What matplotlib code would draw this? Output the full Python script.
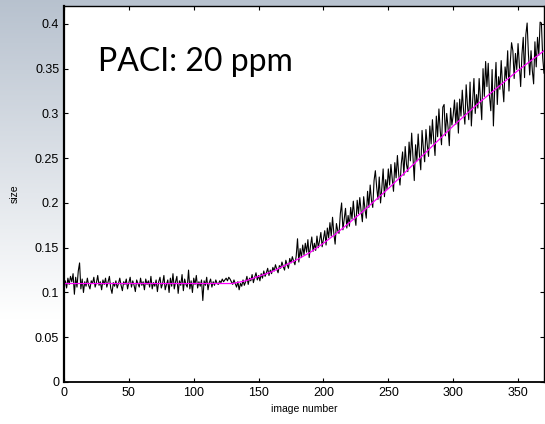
import numpy as np
import matplotlib
matplotlib.use("Agg")
import matplotlib.pyplot as plt
from matplotlib.ticker import FormatStrFormatter

size = [
    0.108, 0.113, 0.105, 0.116, 0.109, 0.118, 0.112, 0.121, 0.098, 0.117, 0.106, 0.124, 0.133, 0.104, 0.115, 0.100, 0.112, 0.107, 0.116, 0.108,
    0.104, 0.113, 0.110, 0.117, 0.106, 0.111, 0.119, 0.108, 0.112, 0.103, 0.114, 0.109, 0.116, 0.106, 0.112, 0.118, 0.105, 0.099, 0.111, 0.107,
    0.113, 0.105, 0.110, 0.116, 0.108, 0.102, 0.112, 0.109, 0.115, 0.104, 0.111, 0.117, 0.106, 0.113, 0.108, 0.101, 0.114, 0.110, 0.106, 0.116,
    0.108, 0.112, 0.103, 0.115, 0.109, 0.113, 0.106, 0.118, 0.104, 0.111, 0.107, 0.114, 0.101, 0.112, 0.117, 0.105, 0.110, 0.119, 0.103, 0.109,
    0.114, 0.100, 0.116, 0.107, 0.121, 0.104, 0.112, 0.118, 0.099, 0.113, 0.108, 0.120, 0.102, 0.115, 0.109, 0.106, 0.125, 0.104, 0.113, 0.100,
    0.116, 0.109, 0.119, 0.105, 0.112, 0.107, 0.114, 0.091, 0.113, 0.108, 0.117, 0.103, 0.111, 0.115, 0.106, 0.112, 0.108, 0.114, 0.110, 0.109,
    0.113, 0.111, 0.115, 0.112, 0.114, 0.116, 0.113, 0.117, 0.115, 0.112, 0.109, 0.114, 0.110, 0.106, 0.112, 0.103, 0.110, 0.107, 0.114, 0.108,
    0.112, 0.118, 0.109, 0.116, 0.113, 0.120, 0.111, 0.117, 0.122, 0.114, 0.119, 0.113, 0.121, 0.116, 0.124, 0.118, 0.122, 0.127, 0.119, 0.125,
    0.121, 0.128, 0.124, 0.131, 0.126, 0.122, 0.130, 0.127, 0.134, 0.129, 0.125, 0.136, 0.131, 0.127, 0.138, 0.133, 0.140, 0.135, 0.131, 0.141,
    0.160, 0.134, 0.149, 0.139, 0.153, 0.142, 0.155, 0.145, 0.159, 0.139, 0.152, 0.162, 0.146, 0.155, 0.147, 0.163, 0.150, 0.158, 0.167, 0.151,
    0.160, 0.169, 0.153, 0.172, 0.161, 0.178, 0.163, 0.184, 0.166, 0.154, 0.177, 0.169, 0.166, 0.188, 0.200, 0.170, 0.182, 0.194, 0.172, 0.186,
    0.174, 0.195, 0.182, 0.202, 0.185, 0.175, 0.203, 0.188, 0.206, 0.191, 0.179, 0.207, 0.193, 0.183, 0.213, 0.195, 0.220, 0.203, 0.195, 0.225,
    0.236, 0.218, 0.204, 0.229, 0.200, 0.217, 0.238, 0.207, 0.226, 0.215, 0.238, 0.220, 0.243, 0.227, 0.213, 0.245, 0.228, 0.253, 0.232, 0.220,
    0.244, 0.257, 0.231, 0.263, 0.243, 0.235, 0.268, 0.247, 0.278, 0.252, 0.225, 0.265, 0.247, 0.277, 0.253, 0.237, 0.281, 0.261, 0.246, 0.282,
    0.265, 0.252, 0.286, 0.266, 0.293, 0.270, 0.253, 0.297, 0.274, 0.305, 0.281, 0.265, 0.307, 0.310, 0.275, 0.300, 0.285, 0.264, 0.306, 0.287,
    0.298, 0.315, 0.288, 0.312, 0.278, 0.316, 0.297, 0.326, 0.303, 0.288, 0.332, 0.309, 0.293, 0.335, 0.286, 0.314, 0.339, 0.300, 0.321, 0.306,
    0.339, 0.315, 0.293, 0.350, 0.319, 0.358, 0.330, 0.356, 0.319, 0.303, 0.349, 0.286, 0.328, 0.357, 0.310, 0.341, 0.327, 0.359, 0.332, 0.313,
    0.352, 0.339, 0.370, 0.325, 0.357, 0.379, 0.370, 0.339, 0.367, 0.349, 0.378, 0.354, 0.330, 0.366, 0.385, 0.340, 0.388, 0.401, 0.366, 0.343,
    0.370, 0.348, 0.333, 0.380, 0.352, 0.385, 0.365, 0.402, 0.401, 0.362, 0.345,
]
image = np.arange(len(size))

# fitted curve (magenta)
fit_x = [0, 130, 140, 150, 160, 170, 180, 190, 200, 210, 220, 230, 240, 250,
         260, 270, 280, 290, 300, 310, 320, 330, 340, 350, 360, 370]
fit_y = [0.110, 0.110, 0.113, 0.118, 0.123, 0.130, 0.137, 0.145, 0.155, 0.166,
         0.178, 0.190, 0.203, 0.216, 0.230, 0.244, 0.258, 0.272, 0.286, 0.299,
         0.312, 0.324, 0.336, 0.348, 0.359, 0.370]

fig = plt.figure(figsize=(5.45, 4.24), dpi=100)

# slide-like gradient background
bg = fig.add_axes([0, 0, 1, 1], zorder=0)
rows = np.linspace(0, 1, 200)[:, None]
top = np.array([0.72, 0.76, 0.81])
grad = top + (1 - top) * np.clip(rows / 0.75, 0, 1)[..., None]
grad = np.repeat(grad, 2, axis=1)
bg.imshow(grad, aspect="auto", extent=[0, 1, 0, 1], origin="upper")
bg.axis("off")

ax = fig.add_axes([64 / 545, 42 / 424, 480 / 545, 376 / 424], zorder=1)
ax.set_facecolor("white")
ax.plot(image, size, color="black", lw=0.8)
ax.plot(fit_x, fit_y, color="#ff00ff", lw=0.9)

ax.set_xlim(0, 370)
ax.set_ylim(0, 0.42)
ax.set_xticks(np.arange(0, 351, 50))
ax.set_yticks(np.arange(0, 0.401, 0.05))
ax.yaxis.set_major_formatter(FormatStrFormatter("%g"))
ax.tick_params(direction="in", length=3, width=0.8, top=True, right=True,
               labelsize=9, colors="black")
for s in ax.spines.values():
    s.set_linewidth(1.0)
ax.spines["left"].set_linewidth(1.6)
ax.spines["bottom"].set_linewidth(1.3)

for lab in ax.get_xticklabels() + ax.get_yticklabels():
    lab.set_family("Liberation Sans")

ax.set_xlabel("image number", fontsize=7.5, family="Liberation Sans", labelpad=4)
ax.set_ylabel("size", fontsize=7.5, family="Liberation Sans", labelpad=11)

ax.text(0.07, 0.85, "PACI: 20 ppm", transform=ax.transAxes, fontsize=23,
        family="Lato", va="center", ha="left")

fig.savefig("out.png", dpi=100)
